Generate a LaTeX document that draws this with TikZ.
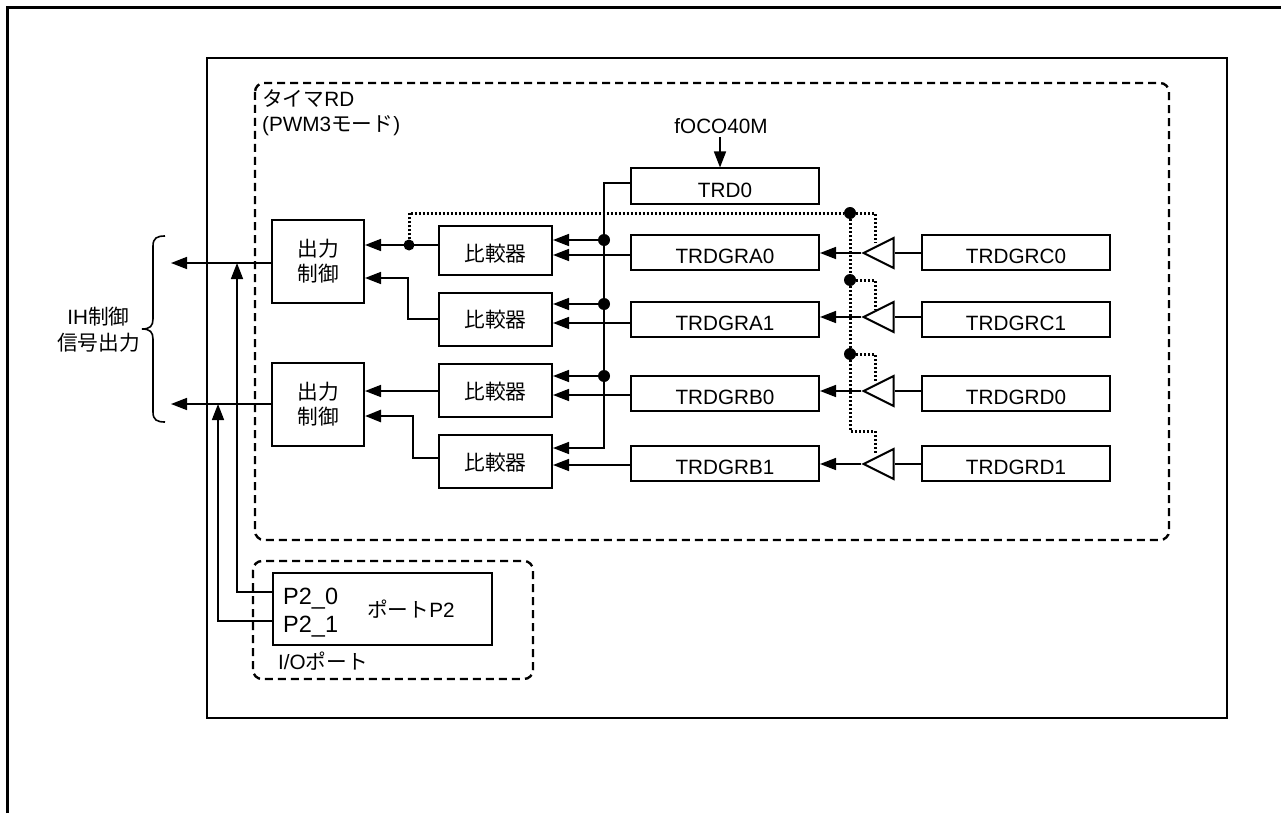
\documentclass[tikz,border=0pt]{standalone}
\usepackage{fontspec}
\setmainfont{Liberation Sans}
\newfontfamily\cjk{Noto Sans CJK JP}
\usetikzlibrary{arrows.meta,shapes.geometric}
\newcommand{\lowered}[2]{\raisebox{-#1pt}[0pt][0pt]{#2}}
\tikzset{
    block/.style={rectangle, draw, line width=2pt, inner sep=0pt, font=\fontsize{20.7}{25}\selectfont},
    regbox/.style={block, minimum width=188pt, minimum height=35pt},
    cmpbox/.style={block, minimum width=113pt, minimum height=53pt},
    outbox/.style={block, minimum width=92pt, minimum height=83pt, align=center},
    buffer/.style={isosceles triangle, draw, line width=2pt, inner sep=0pt, shape border rotate=180, isosceles triangle stretches, minimum width=30pt, minimum height=30pt, anchor=apex},
    dot/.style={circle, fill, inner sep=0pt, minimum size=12pt},
    sig/.style={line width=1.6pt},
    arr/.style={sig, -{Triangle[length=16pt,width=12pt]}},
    ctl/.style={line width=3pt, dash pattern=on 2.2pt off 1.8pt},
    region/.style={line width=2.4pt, dash pattern=on 8pt off 5pt, rounded corners=9pt},
    txt/.style={inner sep=0pt, font=\fontsize{20.7}{26}\selectfont}
}
\begin{document}
\begin{tikzpicture}[x=1pt, y=-1pt]
    \useasboundingbox (0,0) rectangle (1281,813);
    % frames
    \draw[line width=3pt] (7.5,813) -- (7.5,8) -- (1281,8);
    \draw[line width=2pt] (206.5,58) rectangle (1227,718);
    \draw[region] (255,83) rectangle (1169,540);
    \draw[region] (253,561) rectangle (533,679);

    % registers
    \node[regbox] (trd0) at (725,186) {\lowered{11}{TRD0}};
    \node[regbox] (gra0) at (725,252) {\lowered{11}{TRDGRA0}};
    \node[regbox] (gra1) at (725,319) {\lowered{11}{TRDGRA1}};
    \node[regbox] (grb0) at (725,393) {\lowered{11}{TRDGRB0}};
    \node[regbox] (grb1) at (725,463) {\lowered{11}{TRDGRB1}};
    \node[regbox] (grc0) at (1016,252) {\lowered{11}{TRDGRC0}};
    \node[regbox] (grc1) at (1016,319) {\lowered{11}{TRDGRC1}};
    \node[regbox] (grd0) at (1016,393) {\lowered{11}{TRDGRD0}};
    \node[regbox] (grd1) at (1016,463) {\lowered{11}{TRDGRD1}};

    % comparators
    \node[cmpbox, minimum height=49pt] (cmp0) at (495.5,250.5) {\lowered{11}{\cjk 比較器}};
    \node[cmpbox] (cmp1) at (495.5,319) {\lowered{8}{\cjk 比較器}};
    \node[cmpbox] (cmp2) at (495.5,390) {\lowered{9}{\cjk 比較器}};
    \node[cmpbox] (cmp3) at (495.5,461) {\lowered{9}{\cjk 比較器}};

    % output control
    \node[outbox] (out0) at (318,261.5) {\cjk 出力\\\cjk 制御};
    \node[outbox] (out1) at (318,404.5) {\cjk 出力\\\cjk 制御};

    % port
    \node[block, minimum width=219pt, minimum height=72pt] (port) at (382.5,609) {};
    \node[txt, anchor=west] (p20) at (283,599) {\fontsize{23.5}{26}\selectfont P2\_0};
    \node[txt, anchor=west] (p21) at (283,627) {\fontsize{23.5}{26}\selectfont P2\_1};
    \node[txt] (portname) at (411,609) {{\cjk ポート}P2};
    \node[txt, anchor=west] (iolabel) at (278,661) {I/O{\cjk ポート}};

    % labels
    \node[txt, anchor=west] (timerlabel) at (262,99) {{\cjk タイマ}RD};
    \node[txt, anchor=west] (modelabel) at (262,126) {(PWM3{\cjk モード})};
    \node[txt] (clk) at (721,126) {fOCO40M};
    \node[txt, align=center] (iflabel) at (98.5,329.5) {IH{\cjk 制御}\\{\cjk 信号出力}};

    % buffers
    \node[buffer] (buf0) at (861,253) {};
    \node[buffer] (buf1) at (861,317) {};
    \node[buffer] (buf2) at (861,391) {};
    \node[buffer] (buf3) at (861,464) {};
    \coordinate (clkend) at (720,137);
    \draw[arr] (clkend) -- (clkend |- trd0.north);
    \draw[sig] (grc0.west |- buf0.lower side) -- (buf0.lower side);
    \draw[sig] (grc1.west |- buf1.lower side) -- (buf1.lower side);
    \draw[sig] (grd0.west |- buf2.lower side) -- (buf2.lower side);
    \draw[sig] (grd1.west |- buf3.lower side) -- (buf3.lower side);
    \draw[arr] (buf0.apex) -- (gra0.east |- buf0.apex);
    \draw[arr] (buf1.apex) -- (gra1.east |- buf1.apex);
    \draw[arr] (buf2.apex) -- (grb0.east |- buf2.apex);
    \draw[arr] (buf3.apex) -- (grb1.east |- buf3.apex);

    % count bus
    \node[dot] (busa) at (604,240) {};
    \node[dot] (busb) at (604,304) {};
    \node[dot] (busc) at (604,376) {};
    \draw[sig] (trd0.west |- 0,183) -- (604,183) -- (busa) -- (busb) -- (busc);
    \draw[arr] (busc) -- (604,448) -- (cmp3.east |- 0,448);
    \draw[arr] (busa) -- (cmp0.east |- busa);
    \draw[arr] (busb) -- (cmp1.east |- busb);
    \draw[arr] (busc) -- (cmp2.east |- busc);
    \draw[arr] (gra0.west |- 0,255) -- (cmp0.east |- 0,255);
    \draw[arr] (gra1.west |- 0,323) -- (cmp1.east |- 0,323);
    \draw[arr] (grb0.west |- 0,395) -- (cmp2.east |- 0,395);
    \draw[arr] (grb1.west |- 0,465) -- (cmp3.east |- 0,465);

    % outputs of comparators
    \node[dot, minimum size=11pt] (dotl) at (409,245) {};
    \draw[arr] (cmp0.west |- dotl) -- (out0.east |- dotl);
    \draw[arr] (cmp1.west) -- (408,319) -- (408,278) -- (out0.east |- 0,278);
    \draw[arr] (cmp2.west |- 0,391) -- (out1.east |- 0,391);
    \draw[arr, line width=2.6pt] (cmp3.west |- 0,458) -- (413,458) -- (413,416) -- (out1.east |- 0,416);

    % dotted control lines
    \node[dot] (dota) at (850,213) {};
    \node[dot] (dotb) at (850,280) {};
    \node[dot] (dotc) at (850,354) {};
    \draw[ctl] (dotl) -- (409,213) -- (dota) -- (875,213) -- (875,243);
    \draw[ctl] (dota) -- (dotb) -- (dotc) -- (850,431) -- (875,431) -- (875,455);
    \draw[ctl] (dotb) -- (875,280) -- (875,310);
    \draw[ctl] (dotc) -- (875,354) -- (875,383);

    % signal outputs
    \coordinate (outa) at (171,263);
    \coordinate (outb) at (171,404);
    \draw[arr] (out0.west |- outa) -- (outa);
    \draw[arr] (out1.west |- outb) -- (outb);
    \draw[arr] (port.west |- 0,592) -- (237,592) -- (237,263);
    \draw[arr] (port.west |- 0,621) -- (218,621) -- (218,404);
    \draw[sig] (165,236) .. controls (157,236) and (153,238) .. (153,246) -- (153,319) .. controls (153,326) and (150,329) .. (142,329) .. controls (150,329) and (153,332) .. (153,339) -- (153,412) .. controls (153,420) and (157,422) .. (165,422);
\end{tikzpicture}
\end{document}
